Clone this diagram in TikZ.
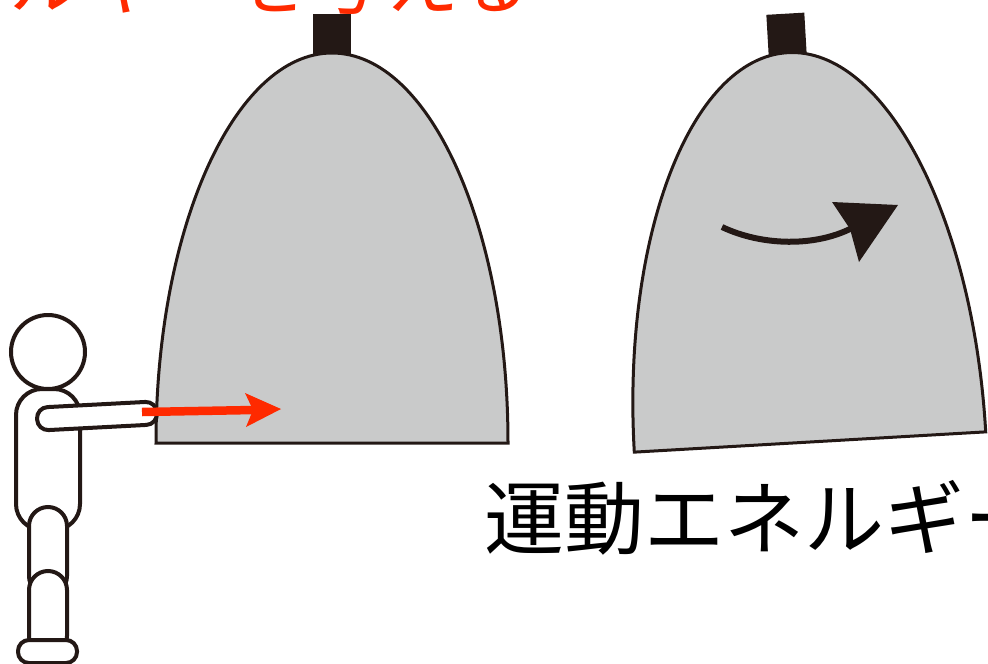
\documentclass[tikz,border=0pt]{standalone}
\usepackage{fontspec}
\newfontfamily\jpfont{Noto Sans CJK JP}
\definecolor{ink}{HTML}{231815}
\definecolor{bellgray}{HTML}{C9CACA}
\definecolor{pushred}{HTML}{FF2A00}
\tikzset{
  limb/.style={draw=ink, line width=4pt, fill=white},
  bellbody/.pic={
    % knob on top, then the bell shell (half ellipse on a flat base)
    \fill[ink] (-19,-429) rectangle (19,-388);
    \draw[ink, line width=3pt, fill=bellgray, line join=miter]
      (-176,0) .. controls (-176,-215.4) and (-97.2,-390) .. (0,-390)
      .. controls (97.2,-390) and (176,-215.4) .. (176,0) -- cycle;
  },
  jptext/.style={inner sep=0pt, anchor=base west, font=\jpfont\fontsize{#1}{#1}\selectfont}
}
\begin{document}
\begin{tikzpicture}[x=1pt, y=-1pt]
\useasboundingbox (0,0) rectangle (988,664);
\clip (0,0) rectangle (988,664);

% caption above (runs off the top edge)
\node[jptext=75, text=pushred] (give) at (-141,8) {エネルギーを与える};

% bell at rest and bell swinging
\pic (bellA) at (332,443) {bellbody};
\pic[rotate=3.3] (bellB) at (810,442) {bellbody};

% person pushing the bell
\draw[limb] (48,352) circle[radius=37pt];
\draw[limb, rounded corners=26pt] (16,389) rectangle (80,530);
\draw[limb, rounded corners=19pt] (29,507) rectangle (67,595);
\draw[limb, rounded corners=19pt] (29,571) rectangle (67,655);
\draw[limb, rounded corners=11pt] (18,640) rectangle (77,663);
\begin{scope}[shift={(97,416)}, rotate=3]
  \draw[limb, rounded corners=11pt] (-60,-11.5) rectangle (60,11.5);
\end{scope}

% push arrow
\coordinate (pushStart) at (142,412);
\coordinate (pushEnd) at (254,410);
\draw[pushred, line width=8.5pt] (pushStart) -- (pushEnd);
\fill[pushred] (245,393) -- (281,409) -- (246,427) -- (253,410) -- cycle;

% swing arrow
\coordinate (swingStart) at (722,227);
\coordinate (swingEnd) at (852,228);
\draw[ink, line width=6pt] (swingStart) .. controls (762,246) and (815,247) .. (swingEnd);
\fill[ink] (832,202) -- (898,205) -- (859,262) -- (850,229) -- cycle;

% caption below
\node[jptext=80, text=black] (kinetic) at (484,548) {運動エネルギー};
\end{tikzpicture}
\end{document}
